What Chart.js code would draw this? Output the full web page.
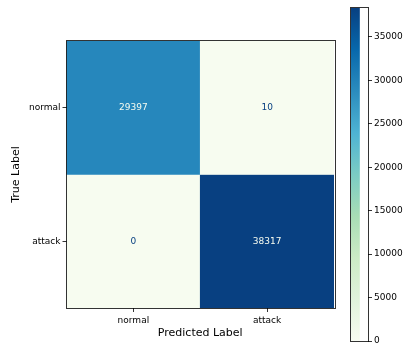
<!DOCTYPE html>
<html>
<head>
<meta charset="utf-8">
<script src="https://cdn.jsdelivr.net/npm/chart.js@4"></script>
<style>
  html, body { margin: 0; padding: 0; background: #fff; }
  #wrap { position: relative; width: 403px; height: 345px; }
  #wrap canvas { position: absolute; left: 0; top: 0; }
</style>
</head>
<body>
<div id="wrap">
  <canvas id="matrix" width="403" height="345"></canvas>
  <canvas id="colorbar" width="403" height="345"></canvas>
</div>
<script>
// confusion matrix data
const predictedLabels = ['normal', 'attack'];
const trueLabels = ['normal', 'attack'];
const normalRow = [29397, 10];
const attackRow = [0, 38317];
const colorbarTicks = [0, 5000, 10000, 15000, 20000, 25000, 30000, 35000];

// GnBu colormap
const gnbu = ['#f7fcf0', '#e0f3db', '#ccebc5', '#a8ddb5', '#7bccc4', '#4eb3d3', '#2b8cbe', '#0868ac', '#084081'];

(function () {
    'use strict';

    const rows = [normalRow, attackRow];
    const vmin = Math.min(...normalRow, ...attackRow);
    const vmax = Math.max(...normalRow, ...attackRow);
    const FONT = "'DejaVu Sans', 'Liberation Sans', sans-serif";

    function hexToRgb(h)
    {
        const n = parseInt(h.slice(1), 16);
        return [(n >> 16) & 255, (n >> 8) & 255, n & 255];
    }

    function cmap(v)
    {
        const t = Math.max(0, Math.min(1, (v - vmin) / (vmax - vmin))) * (gnbu.length - 1);
        const i = Math.min(Math.floor(t), gnbu.length - 2);
        const f = t - i;
        const a = hexToRgb(gnbu[i]);
        const b = hexToRgb(gnbu[i + 1]);
        const c = a.map((x, k) => Math.round(x + (b[k] - x) * f));
        return `rgb(${c[0]}, ${c[1]}, ${c[2]})`;
    }

    // draws the black frame around the plot area
    const framePlugin = {
        id: 'frame',
        afterDraw(chart) {
            const { ctx, chartArea: a } = chart;
            ctx.save();
            ctx.strokeStyle = 'rgba(0,0,0,0.8)';
            ctx.lineWidth = 1;
            ctx.strokeRect(Math.round(a.left) - 0.5, Math.round(a.top) - 0.5,
                Math.round(a.right - a.left) + 1, Math.round(a.bottom - a.top) + 1);
            ctx.restore();
        }
    };

    // value text in each cell
    const cellTextPlugin = {
        id: 'cellText',
        afterDatasetsDraw(chart) {
            const { ctx } = chart;
            const mid = (vmin + vmax) / 2;
            ctx.save();
            ctx.font = `9px ${FONT}`;
            ctx.textAlign = 'center';
            ctx.textBaseline = 'middle';
            chart.data.datasets.forEach((ds, di) => {
                const meta = chart.getDatasetMeta(di);
                meta.data.forEach((el, i) => {
                    const v = ds.values[i];
                    ctx.fillStyle = v > mid ? gnbu[0] : gnbu[gnbu.length - 1];
                    ctx.fillText(String(v), el.x, (el.y + el.base) / 2);
                });
            });
            ctx.restore();
        }
    };

    const n = trueLabels.length;
    const datasets = trueLabels.map((lab, r) => ({
        label: lab,
        values: rows[r],
        data: predictedLabels.map(() => [n - 1 - r, n - r]),
        backgroundColor: rows[r].map(cmap),
        borderWidth: 0,
        barPercentage: 1,
        categoryPercentage: 1
    }));

    new Chart(document.getElementById('matrix'), {
        type: 'bar',
        data: { labels: predictedLabels, datasets: datasets },
        options: {
            responsive: false,
            animation: false,
            events: [],
            datasets: { bar: { grouped: false } },
            layout: { padding: { left: 0, top: 41, right: 69, bottom: 0 } },
            plugins: { legend: { display: false }, tooltip: { enabled: false } },
            scales: {
                x: {
                    type: 'category',
                    grid: { offset: false, drawOnChartArea: false, tickLength: 4, tickColor: '#000', tickWidth: 0.8 },
                    border: { display: false },
                    ticks: { color: '#000', font: { family: FONT, size: 9 }, padding: 3, maxRotation: 0 },
                    title: { display: true, text: 'Predicted Label', color: '#000', font: { family: FONT, size: 11 }, padding: { top: 0, bottom: 5 } },
                    afterFit(scale) { scale.height = 37; }
                },
                y: {
                    type: 'linear',
                    min: 0,
                    max: n,
                    afterBuildTicks(scale) {
                        scale.ticks = trueLabels.map((_, r) => ({ value: n - 1 - r + 0.5 }));
                    },
                    grid: { drawOnChartArea: false, tickLength: 4, tickColor: '#000', tickWidth: 0.8 },
                    border: { display: false },
                    ticks: {
                        color: '#000',
                        font: { family: FONT, size: 9 },
                        padding: 2,
                        callback: (v) => trueLabels[n - 1 - Math.floor(v)]
                    },
                    title: { display: true, text: 'True Label', color: '#000', font: { family: FONT, size: 11 }, padding: { top: 10, bottom: 0 } },
                    afterFit(scale) { scale.width = 66.5; }
                }
            }
        },
        plugins: [cellTextPlugin, framePlugin]
    });

    // colorbar
    new Chart(document.getElementById('colorbar'), {
        type: 'bar',
        data: {
            labels: [''],
            datasets: [{
                data: [vmax],
                borderWidth: 0,
                barPercentage: 1,
                categoryPercentage: 1,
                backgroundColor(c) {
                    const chart = c.chart;
                    const ys = chart.scales.y;
                    if (!ys || !chart.chartArea) {
                        return gnbu[0];
                    }
                    const g = chart.ctx.createLinearGradient(0, ys.getPixelForValue(vmin), 0, ys.getPixelForValue(vmax));
                    gnbu.forEach((col, i) => g.addColorStop(i / (gnbu.length - 1), col));
                    return g;
                }
            }]
        },
        options: {
            responsive: false,
            animation: false,
            events: [],
            layout: { padding: { left: 351, top: 8, right: 0, bottom: 4 } },
            plugins: { legend: { display: false }, tooltip: { enabled: false } },
            scales: {
                x: { display: false, offset: false },
                y: {
                    position: 'right',
                    min: vmin,
                    max: vmax,
                    afterBuildTicks(scale) {
                        scale.ticks = colorbarTicks.map(v => ({ value: v }));
                    },
                    grid: { drawOnChartArea: false, tickLength: 4, tickColor: '#000', tickWidth: 0.8 },
                    border: { display: false },
                    ticks: { color: '#000', font: { family: FONT, size: 9 }, padding: 2, callback: (v) => String(v) },
                    afterFit(scale) {
                        scale.width = 35;
                        scale.paddingTop = 0;
                        scale.paddingBottom = 0;
                    }
                }
            }
        },
        plugins: [framePlugin]
    });
})();
</script>
</body>
</html>
